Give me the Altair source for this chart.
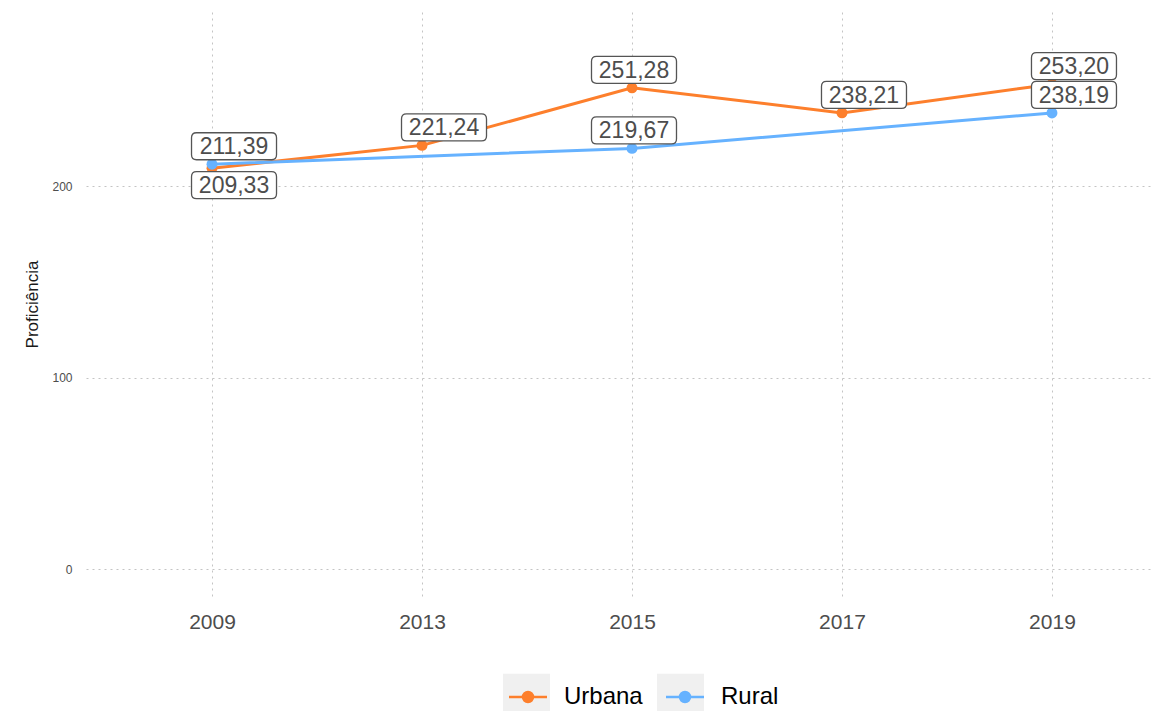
import altair as alt
import pandas as pd

# ---------------- data ----------------
anos = ["2009", "2013", "2015", "2017", "2019"]
urbana = [209.33, 221.24, 251.28, 238.21, 253.20]
rural_anos = ["2009", "2015", "2019"]
rural = [211.39, 219.67, 238.19]
series = ["Urbana", "Rural"]
cores = ["#FD7F2C", "#66B2FF"]
y_ticks = [0, 100, 200]

rows = [{"serie": "Urbana", "ano": a, "valor": v} for a, v in zip(anos, urbana)]
rows += [{"serie": "Rural", "ano": a, "valor": v} for a, v in zip(rural_anos, rural)]
df = pd.DataFrame(rows)

# ---------------- label placement (styling, like ggrepel nudges) ----------------
NUDGE_X = 22
NUDGE_X_CENTRADO = 2
ANOS_CENTRADOS = {"2015"}
ACIMA = -18
ABAIXO = 17


def _nudge(r):
    other = df[(df.ano == r.ano) & (df.serie != r.serie)].valor
    below = len(other) > 0 and other.iloc[0] > r.valor and other.iloc[0] - r.valor < 10
    dx = NUDGE_X_CENTRADO if r.ano in ANOS_CENTRADOS else NUDGE_X
    dy = ABAIXO if below else ACIMA
    return pd.Series({"dx": dx, "dy": dy})


df[["dx", "dy"]] = df.apply(_nudge, axis=1)

FONT = "Liberation Sans"

# rounded label box as a custom symbol path (width = sqrt(size))
BOX_W, BOX_H, BOX_R = 85.0, 27.0, 5.0
hw = 1.0
hh = BOX_H / BOX_W
rr = 2 * BOX_R / BOX_W
BOX_PATH = (
    f"M{-hw+rr:.4f},{-hh:.4f}L{hw-rr:.4f},{-hh:.4f}Q{hw},{-hh:.4f} {hw},{-hh+rr:.4f}"
    f"L{hw},{hh-rr:.4f}Q{hw},{hh:.4f} {hw-rr:.4f},{hh:.4f}"
    f"L{-hw+rr:.4f},{hh:.4f}Q{-hw},{hh:.4f} {-hw},{hh-rr:.4f}"
    f"L{-hw},{-hh+rr:.4f}Q{-hw},{-hh:.4f} {-hw+rr:.4f},{-hh:.4f}Z"
)

# legend key symbol: line + (stroked concentric circles -> solid dot)
KEY_W = 47.0
s = KEY_W / 2


def circle(rpx):
    r = rpx / s
    k = 0.5523 * r
    return (
        f"M{r:.4f},0C{r:.4f},{k:.4f} {k:.4f},{r:.4f} 0,{r:.4f}"
        f"C{-k:.4f},{r:.4f} {-r:.4f},{k:.4f} {-r:.4f},0"
        f"C{-r:.4f},{-k:.4f} {-k:.4f},{-r:.4f} 0,{-r:.4f}"
        f"C{k:.4f},{-r:.4f} {r:.4f},{-k:.4f} {r:.4f},0Z"
    )


LINE_KEY_PATH = f"M{-19/s:.4f},0L{19/s:.4f},0" + circle(5.0) + circle(2.5)
KEY_BG_H = 44.0
KEY_BG_PATH = f"M-1,{-KEY_BG_H/KEY_W:.4f}L1,{-KEY_BG_H/KEY_W:.4f}L1,{KEY_BG_H/KEY_W:.4f}L-1,{KEY_BG_H/KEY_W:.4f}Z"

PLOT_W, PLOT_H = 1068, 584
GRID = dict(grid=True, gridColor="#c4c4c4", gridDash=[2, 4], gridWidth=1)

x_enc = alt.X(
    "ano:O",
    sort=anos,
    scale=alt.Scale(type="point", domain=anos, padding=0.543, align=0.5526),
    axis=alt.Axis(
        title=None, ticks=False, domain=False, labelAngle=0,
        labelFontSize=21, labelFont=FONT, labelColor="#4d4d4d", labelPadding=15,
        **GRID,
    ),
)
y_enc = alt.Y(
    "valor:Q",
    scale=alt.Scale(domain=[-14.1, 290.9], nice=False, zero=False),
    axis=alt.Axis(
        title="Proficiência", values=y_ticks, ticks=False, domain=False,
        labelFontSize=12, labelFont=FONT, labelColor="#4d4d4d", labelPadding=14,
        titleFont=FONT, titleFontSize=17, titleFontWeight="normal", titleColor="#1a1a1a",
        titlePadding=10,
        **GRID,
    ),
)

LEG_X, LEG_Y = 417, 660

color_enc = alt.Color(
    "serie:N",
    scale=alt.Scale(domain=series, range=cores),
    legend=alt.Legend(
        title=None, orient="none", direction="horizontal",
        legendX=LEG_X, legendY=LEG_Y, zindex=2,
        symbolType=LINE_KEY_PATH, symbolSize=KEY_W * KEY_W, symbolStrokeWidth=2.5,
        symbolOpacity=1,
        labelFont=FONT, labelFontSize=24, labelColor="#000000",
        labelOffset=11, columnPadding=17, padding=0,
    ),
)

base = alt.Chart(df)

lines = base.mark_line(strokeWidth=3).encode(x=x_enc, y=y_enc, color=color_enc)
points = base.mark_point(filled=True, size=120, opacity=1).encode(x=x_enc, y=y_enc, color=color_enc)

# empty layer only to draw grey legend-key backgrounds (different domain -> separate legend)
PREF = "fundo-"
key_bg = base.transform_filter("false").transform_calculate(
    chave=f"'{PREF}' + datum.serie"
).mark_point(
    filled=True, color="#F0F0F0", opacity=1, size=KEY_W * KEY_W
).encode(
    x=x_enc, y=y_enc,
    shape=alt.Shape(
        "chave:N",
        scale=alt.Scale(domain=[PREF + s_ for s_ in series], range=[KEY_BG_PATH, KEY_BG_PATH]),
        legend=alt.Legend(
            title=None, orient="none", direction="horizontal",
            legendX=LEG_X, legendY=LEG_Y, zindex=1,
            symbolType=KEY_BG_PATH, symbolSize=KEY_W * KEY_W, symbolOpacity=1,
            symbolFillColor="#F0F0F0", symbolStrokeWidth=0,
            labelExpr="''",
            labelFont=FONT, labelFontSize=24,
            labelOffset=0, columnPadding=107, padding=0,
        ),
    ),
)

label_layers = []
for (dx, dy), _g in df.groupby(["dx", "dy"]):
    flt = f"datum.dx == {dx} && datum.dy == {dy}"
    box = base.transform_filter(flt).mark_point(
        shape=BOX_PATH, size=BOX_W * BOX_W, filled=True, fill="white",
        stroke="#555555", strokeWidth=1.3, opacity=1,
        xOffset=int(dx), yOffset=int(dy),
    ).encode(x=x_enc, y=y_enc)
    txt = base.transform_filter(flt).transform_calculate(
        rotulo="replace(format(datum.valor, '.2f'), '.', ',')"
    ).mark_text(
        font=FONT, fontSize=23, color="#4d4d4d", align="center", baseline="middle",
        dx=int(dx), dy=int(dy) + 1,
    ).encode(x=x_enc, y=y_enc, text="rotulo:N")
    label_layers += [box, txt]

chart = alt.layer(lines, points, key_bg, *label_layers).properties(
    width=PLOT_W,
    height=PLOT_H,
    autosize=alt.AutoSizeParams(type="none"),
    padding={"left": 86, "top": 12, "right": 0, "bottom": 115},
    background="white",
).configure_view(stroke=None)

chart.save("out.html", embed_options={"renderer": "svg", "actions": False})
